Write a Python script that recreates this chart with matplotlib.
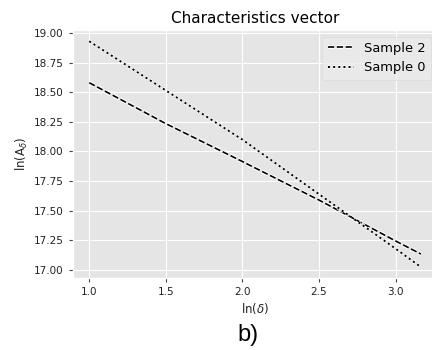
import matplotlib
matplotlib.use("Agg")
import matplotlib.pyplot as plt
import matplotlib.patheffects as pe

plt.style.use("ggplot")

# data
ln_delta = [1.0, 1.5, 2.0, 2.5, 3.0, 3.165]
sample2 = [18.58, 18.235, 17.915, 17.59, 17.245, 17.135]
sample0 = [18.93, 18.515, 18.10, 17.64, 17.18, 17.025]

title = "Characteristics vector"
xlabel = r"$\mathrm{ln}(\delta)$"
ylabel = r"$\mathrm{ln}(\mathrm{A}_\delta)$"
panel_label = "b)"

fig = plt.figure(figsize=(4.32, 3.5), dpi=100)
ax = fig.add_axes([72.7 / 432, 1 - 278.3 / 350, (437.4 - 72.7) / 432, (278.3 - 30) / 350])

halo = [pe.Stroke(linewidth=2.8, foreground="white"), pe.Normal()]
ax.plot(ln_delta, sample2, color="black", linestyle="--", linewidth=1.2,
        label="Sample 2", path_effects=halo)
ax.plot(ln_delta, sample0, color="black", linestyle=":", linewidth=1.4,
        label="Sample 0", path_effects=halo)

ax.set_yticks([17.00, 17.25, 17.50, 17.75, 18.00, 18.25, 18.50, 18.75, 19.00])
ax.set_xticks([1.0, 1.5, 2.0, 2.5, 3.0])
ax.tick_params(axis="both", labelsize=7.5, colors="#444444",
               length=3, width=0.8, direction="out")
ax.tick_params(axis="both", labelcolor="#222222")

ax.set_title(title, fontsize=11, color="black", pad=5)
ax.set_xlabel(xlabel, fontsize=8.5, color="#222222", labelpad=3)
ax.set_ylabel(ylabel, fontsize=8.5, color="#222222", labelpad=3)

leg = ax.legend(loc="upper right", fontsize=9.4, frameon=True, handlelength=2.0)
leg.get_frame().set_facecolor("#EBEBEB")
leg.get_frame().set_edgecolor("#D8D8D8")
for t in leg.get_texts():
    t.set_color("black")

fig.text(248 / 432, 1 - 335 / 350, panel_label, fontsize=17, ha="center", va="center",
         color="black", family=["Liberation Sans Narrow", "Liberation Sans", "DejaVu Sans"])

fig.savefig("out.png", dpi=100)
